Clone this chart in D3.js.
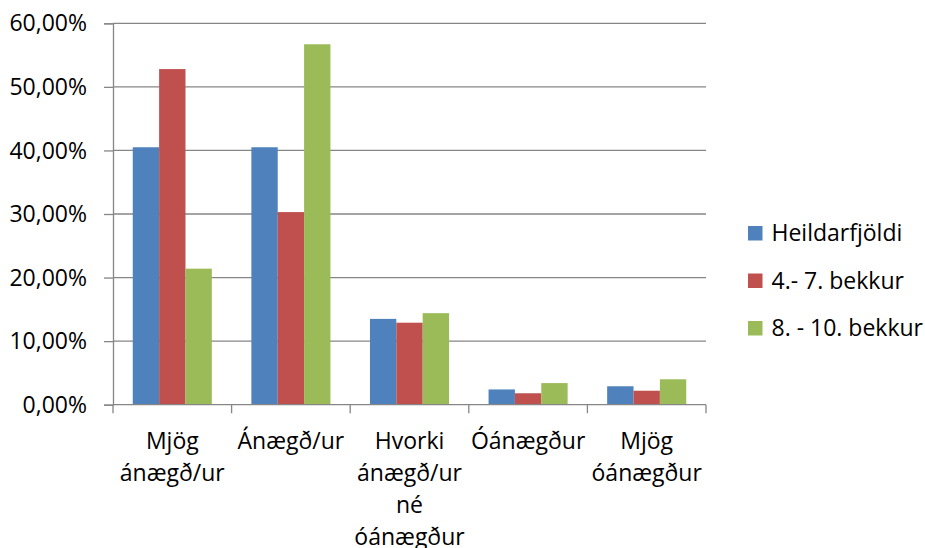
<!DOCTYPE html>
<html>
<head>
<meta charset="utf-8">
<script src="https://cdn.jsdelivr.net/npm/d3@7"></script>
<style>
  body { margin: 0; background: #fff; }
  text { font-family: "Open Sans", sans-serif; font-size: 23px; fill: #000; }
</style>
</head>
<body>
<svg id="chart" width="925" height="548"></svg>
<script>
// chart data
const categories = [
  ['Mjög', 'ánægð/ur'],
  ['Ánægð/ur'],
  ['Hvorki', 'ánægð/ur', 'né', 'óánægður'],
  ['Óánægður'],
  ['Mjög', 'óánægður']
]
const seriesNames = ['Heildarfjöldi', '4.- 7. bekkur', '8. - 10. bekkur']
const heildarfjoldi = [40.5, 40.5, 13.5, 2.4, 2.9]
const bekkur4til7 = [52.8, 30.3, 12.9, 1.8, 2.2]
const bekkur8til10 = [21.4, 56.7, 14.4, 3.4, 4.0]
const yTicks = [0, 10, 20, 30, 40, 50, 60]
const colors = ['#4F81BD', '#C0504D', '#9BBB59']

const seriesValues = [heildarfjoldi, bekkur4til7, bekkur8til10]
const catIds = categories.map((c, i) => i)

let svg = d3.select('#chart')

let plotLeft = 113, plotRight = 706, plotTop = 23.3, plotBottom = 404.7
let gridColor = '#868686'

let x0 = d3.scaleBand().domain(catIds).range([plotLeft, plotRight])
let bw = x0.bandwidth()
let barW = bw / 4.5 // excel gap width 150%
let x1 = d3.scaleBand().domain(d3.range(seriesNames.length))
  .range([barW * 0.75, bw - barW * 0.75])

let y = d3.scaleLinear().domain([0, 60]).range([plotBottom, plotTop])

// gridlines
svg.append('g')
  .selectAll('line')
  .data(yTicks.slice(1))
  .enter().append('line')
  .attr('x1', plotLeft).attr('x2', plotRight)
  .attr('y1', d => y(d)).attr('y2', d => y(d))
  .attr('stroke', gridColor)
  .attr('stroke-width', 1.3)

// bars
let groups = svg.append('g')
  .selectAll('g')
  .data(catIds)
  .enter().append('g')
  .attr('transform', i => `translate(${x0(i)},0)`)

groups.selectAll('rect')
  .data(i => seriesValues.map((vals, s) => ({ s: s, v: vals[i] })))
  .enter().append('rect')
  .attr('x', d => x1(d.s))
  .attr('width', x1.bandwidth())
  .attr('y', d => y(d.v))
  .attr('height', d => plotBottom - y(d.v))
  .attr('fill', d => colors[d.s])

// y axis
let yAxis = d3.axisLeft(y)
  .tickValues(yTicks)
  .tickSize(9)
  .tickPadding(17)
  .tickFormat(d => d.toFixed(2).replace('.', ',') + '%')

let yg = svg.append('g')
  .attr('transform', `translate(${plotLeft},0)`)
  .call(yAxis)
yg.select('.domain').attr('stroke', gridColor).attr('stroke-width', 1.3)
yg.selectAll('.tick line').attr('stroke', gridColor).attr('stroke-width', 1.3)
yg.selectAll('.tick text')
  .attr('font-family', '"Open Sans", sans-serif')
  .attr('font-size', 23)
  .attr('fill', '#000')
  .attr('dy', '0.33em')

// x axis line and ticks at category borders
let xg = svg.append('g')
xg.append('line')
  .attr('x1', plotLeft).attr('x2', plotRight)
  .attr('y1', plotBottom).attr('y2', plotBottom)
  .attr('stroke', gridColor).attr('stroke-width', 1.3)
xg.selectAll('line.tk')
  .data(catIds.concat([catIds.length]))
  .enter().append('line')
  .attr('class', 'tk')
  .attr('x1', i => plotLeft + i * bw).attr('x2', i => plotLeft + i * bw)
  .attr('y1', plotBottom).attr('y2', plotBottom + 8.5)
  .attr('stroke', gridColor).attr('stroke-width', 1.3)

// category labels
let lineH = 32
xg.selectAll('text')
  .data(catIds)
  .enter().append('text')
  .attr('text-anchor', 'middle')
  .attr('transform', i => `translate(${x0(i) + bw / 2},448.5)`)
  .selectAll('tspan')
  .data(i => categories[i])
  .enter().append('tspan')
  .attr('x', 0)
  .attr('y', (d, k) => k * lineH)
  .text(d => d)

// legend
let legend = svg.append('g')
  .selectAll('g')
  .data(seriesNames)
  .enter().append('g')
  .attr('transform', (d, i) => `translate(748,${241 + i * 47.5})`)

legend.append('rect')
  .attr('x', 0).attr('y', -15)
  .attr('width', 14.5).attr('height', 14.5)
  .attr('fill', (d, i) => colors[i])

legend.append('text')
  .attr('x', 23.5)
  .attr('y', 0)
  .text(d => d)
</script>
</body>
</html>
